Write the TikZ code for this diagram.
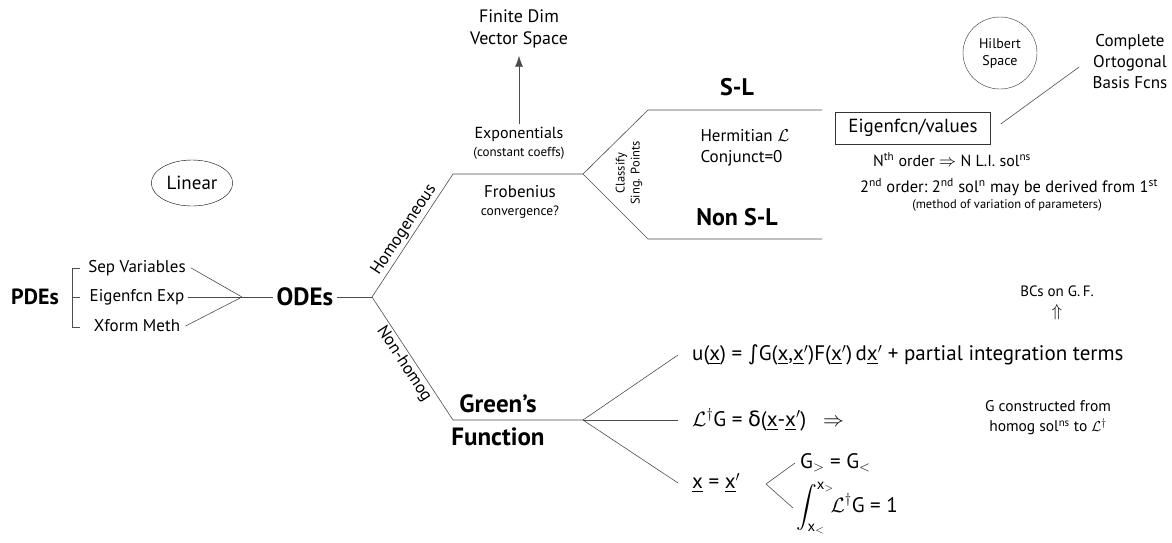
\documentclass[tikz,border=0pt]{standalone}
\usepackage{amsmath}
\usepackage{fontspec}
\setmainfont{PT Sans}
\newfontfamily\symf{DejaVu Sans}
\usepackage{tikz}
\usetikzlibrary{arrows.meta,shapes.geometric}

\tikzset{
  ln/.style={draw=black!70, line width=0.6pt},
  head/.style={font=\bfseries\fontsize{24}{26}\selectfont},
  txt/.style={font=\fontsize{17}{21}\selectfont},
  note/.style={font=\fontsize{13.5}{16}\selectfont},
  eq/.style={font=\fontsize{21}{24}\selectfont, anchor=west, inner sep=0pt},
}

\begin{document}
\begin{tikzpicture}[x=1pt,y=-1pt]
		\useasboundingbox (0,0) rectangle (1172,542);
		
		% PDEs -> ODEs
		\node[head,font=\bfseries\fontsize{22}{24}\selectfont] (pde) at (35,297) {PDEs};
		\node[txt] (sep) at (137,268) {Sep Variables};
		\node[txt] (eig) at (137,297) {Eigenfcn Exp};
		\node[txt] (xfm) at (137,326) {Xform Meth};
		\draw[ln] (80,268) -- (72,268) -- (72,327) -- (80,327);
		\draw[ln] (72,297) -- (80,297);
		\node[draw,ellipse,minimum width=76pt,minimum height=46pt,font=\fontsize{19}{21}\selectfont] (lin) at (192,183) {Linear};
		
		\coordinate (pj) at (242,297);
		\draw[ln] ([xshift=2pt]sep.east) -- (pj);
		\draw[ln] (eig.east) -- (pj);
		\draw[ln] ([xshift=2pt]xfm.east) -- (pj);
		\node[head,font=\bfseries\fontsize{25}{27}\selectfont] (ode) at (305,297) {ODEs};
		\draw[ln] (pj) -- (ode.west);
		
		\coordinate (oj) at (372,297);
		\coordinate (hk) at (453,174);
		\coordinate (hj) at (583,174);
		\coordinate (gk) at (453,420);
		\coordinate (gj) at (583,420);
		\draw[ln] (ode.east) -- (oj);
		\draw[ln] (oj) -- node[sloped,above,txt,inner sep=2pt] {Homogeneous} (hk) -- (hj);
		\draw[ln] (oj) -- node[sloped,below,txt,inner sep=2pt] {Non-homog} (gk) -- (gj);
		
		% homogeneous
		\node[txt,font=\fontsize{16}{20}\selectfont] (expo) at (519,134) {Exponentials};
		\node[note,font=\fontsize{13}{16}\selectfont] (expoc) at (519,153) {(constant coeffs)};
		\node[txt,align=center,font=\fontsize{18}{22}\selectfont] (fdim) at (519,29) {Finite Dim\\Vector Space};
		\draw[draw=black!70,line width=0.8pt,-{Latex[length=11pt,width=8pt]}] ([yshift=-1pt]expo.north) -- ([yshift=-4pt]fdim.south);
		\node[txt] (frob) at (520,192) {Frobenius};
		\node[note] (frobc) at (520,212) {convergence?};
		\node[note,rotate=90,align=center,font=\fontsize{12.5}{15}\selectfont] (cls) at (629,173) {Classify\\Sing. Points};
		
		\coordinate (slk) at (648,110);
		\coordinate (slend) at (822,110);
		\coordinate (nslk) at (648,239);
		\coordinate (nslend) at (822,239);
		\draw[ln] (slend) -- (slk) -- (hj) -- (nslk) -- (nslend);
		\node[head] (sl) at (737,87) {S-L};
		\node[txt,align=left,anchor=west] (herm) at (697,148) {Hermitian $\mathcal{L}$\\Conjunct=0};
		\node[head] (nsl) at (737,217) {Non S-L};
		
		\node[draw=black!80,minimum width=155pt,minimum height=32pt,font=\fontsize{19}{21}\selectfont] (eigv) at (913,128) {Eigenfcn/values};
		\node[draw=black!80,ellipse,align=center,minimum width=74pt,minimum height=72pt,font=\fontsize{14}{17}\selectfont] (hil) at (1000,53) {Hilbert\\Space};
		\node[txt,align=center] (cob) at (1130,62) {Complete\\Ortogonal\\Basis Fcns};
		\draw[ln] ([shift={(10pt,4pt)}]eigv.east) -- ([shift={(-10pt,-5pt)}]cob.west);
		\node[font=\fontsize{16}{18}\selectfont] (nth) at (952,160) {N\textsuperscript{th} order $\Rightarrow$ N L.I. sol\textsuperscript{ns}};
		\node[font=\fontsize{16.5}{18}\selectfont] (snd) at (1009,187) {2\textsuperscript{nd} order:\ 2\textsuperscript{nd} sol\textsuperscript{n} may be derived from 1\textsuperscript{st}};
		\node[note,font=\fontsize{12.5}{15}\selectfont] (meth) at (1007,205) {(method of variation of parameters)};
		
		% non-homogeneous
		\node[head,font=\bfseries\fontsize{25}{27}\selectfont] (gr1) at (498,404) {Green’s};
		\node[head,font=\bfseries\fontsize{25}{27}\selectfont] (gr2) at (498,437) {Function};
		\node[eq] (ueq) at (692,355) {u(\underline{x}) = {\symf ∫}G(\underline{x},\underline{x}$'$)F(\underline{x}$'$)\,d\underline{x}$'$ + partial integration terms};
		\node[eq] (leq) at (692,420) {$\mathcal{L}^\dagger$G = {\symf δ}(\underline{x}-\underline{x}$'$)\ \ \ $\Rightarrow$};
		\node[eq] (xeq) at (692,483) {\underline{x} = \underline{x}$'$};
		\draw[ln] (gj) -- ([xshift=-14pt]ueq.west);
		\draw[ln] (gj) -- ([xshift=-14pt]leq.west);
		\draw[ln] (gj) -- ([xshift=-14pt]xeq.west);
		\node[font=\fontsize{15}{17}\selectfont] (bcs) at (1057,291) {BCs on G.\,F.};
		\node[txt] (bcar) at (1057,312) {$\Uparrow$};
		\node[align=center,font=\fontsize{15.5}{20}\selectfont] (gcon) at (1048,418) {G constructed from\\homog sol\textsuperscript{ns} to $\mathcal{L}^\dagger$};
		
		\coordinate (xj) at (766,484);
		\node[eq] (gcmp) at (800,463) {G$_>$ = G$_<$};
		\node[eq] (gint) at (796,508) {$\displaystyle\int_{\mathrm{x}_<}^{\mathrm{x}_>}\!\!\mathcal{L}^\dagger$G = 1};
		\draw[ln] ([xshift=-5pt]gcmp.west) -- (xj) -- ([xshift=-3pt]gint.west);
\end{tikzpicture}
\end{document}
